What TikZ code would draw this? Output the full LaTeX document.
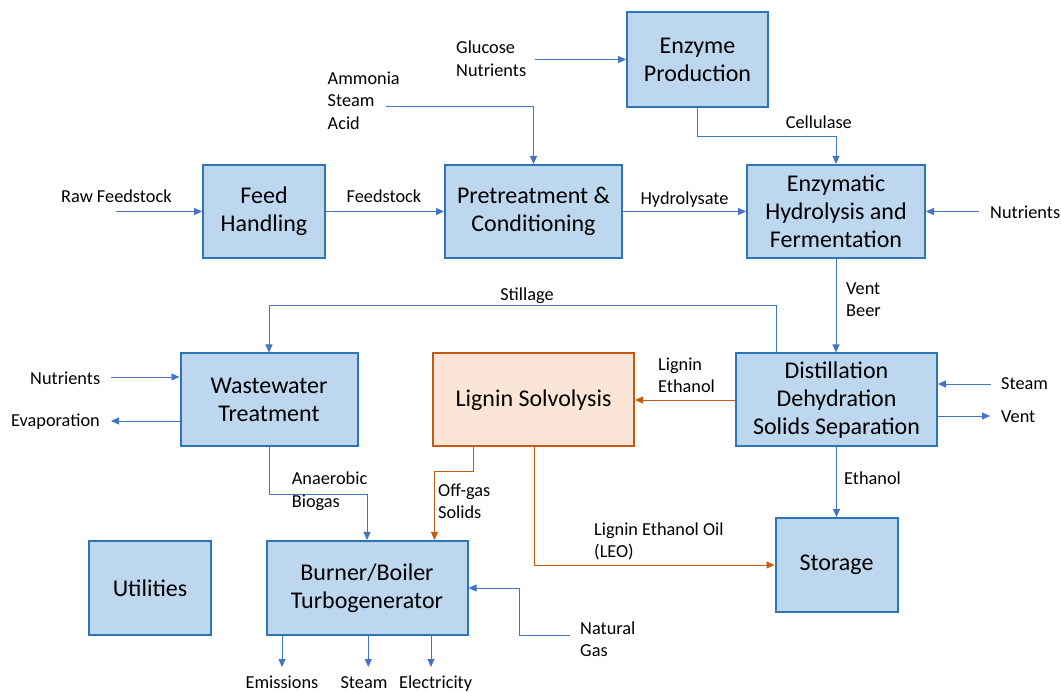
\documentclass[tikz,border=0pt]{standalone}
\usepackage{fontspec}
\setmainfont{Carlito}
\usepackage{tikz}
\usetikzlibrary{arrows.meta}
\definecolor{boxfill}{HTML}{BDD7EE}
\definecolor{boxline}{HTML}{2E75B6}
\definecolor{flowblue}{HTML}{4472C4}
\definecolor{ligfill}{HTML}{FBE5D6}
\definecolor{ligline}{HTML}{C55A11}
\tikzstyle{unit} = [draw=boxline,fill=boxfill,line width=2pt,align=center,inner sep=0pt,font=\fontsize{24}{28}\selectfont]
\tikzstyle{ligunit} = [unit,draw=ligline,fill=ligfill]
\tikzstyle{edge} = [draw,flowblue,line width=0.9pt,-{Triangle[length=8pt,width=7pt]}]
\tikzstyle{oedge} = [edge,ligline]
\tikzstyle{stream} = [align=left,inner sep=0pt,font=\fontsize{18.3}{22.5}\selectfont]

\begin{document}
\begin{tikzpicture}[x=1pt,y=-1pt]
				\useasboundingbox (0,0) rectangle (1061,692);

				\node[unit,minimum width=141pt,minimum height=95pt] (enz) at (697.5, 59.5) {Enzyme\\Production};
				\node[unit,minimum width=122pt,minimum height=93pt] (feed) at (264, 211.5) {Feed\\Handling};
				\node[unit,minimum width=177pt,minimum height=93pt] (pre) at (533.5, 211.5) {Pretreatment \&\\Conditioning};
				\node[unit,minimum width=178pt,minimum height=93pt] (hyd) at (836, 211.5) {Enzymatic\\Hydrolysis and\\Fermentation};

				\node[unit,minimum width=177pt,minimum height=93pt] (ww) at (269, 400) {Wastewater\\Treatment};
				\node[ligunit,minimum width=201pt,minimum height=93pt] (lig) at (533.5, 400) {Lignin Solvolysis};
				\node[unit,minimum width=201pt,minimum height=93pt] (dist) at (836.5, 400) {Distillation\\Dehydration\\Solids Separation};

				\node[unit,minimum width=122pt,minimum height=94pt] (util) at (150, 588) {Utilities};
				\node[unit,minimum width=201pt,minimum height=94pt] (burn) at (367, 588) {Burner/Boiler\\Turbogenerator};
				\node[unit,minimum width=122pt,minimum height=94pt] (stor) at (836.5, 565) {Storage};

				% free ends of the streams
				\coordinate (raw) at (115.5, 211.5);
				\coordinate (nuthyd) at (979, 211.5);
				\coordinate (gluc) at (534.5, 59.5);
				\coordinate (amm) at (386, 106);
				\coordinate (steamin) at (990.5, 384);
				\coordinate (ventout) at (990, 416);
				\coordinate (nutww) at (111, 377);
				\coordinate (evap) at (111, 421);
				\coordinate (ngas) at (570, 635);
				\coordinate (emis) at (282, 667);
				\coordinate (steamout) at (368.3, 667);
				\coordinate (elec) at (431, 667);

				\foreach \source/ \dest in {raw/feed, feed/pre, pre/hyd, nuthyd/hyd, gluc/enz}
				\path[edge] (\source) -- (\dest);
				\path[edge] (amm) -| (pre);
				\path[edge] (enz.south) -- ++(0,28.5) -| (hyd);
				\path[edge] (hyd.south) -- (hyd.south |- dist.north);
				\path[edge] ([xshift=-60.5pt]dist.north) -- ++(0,-47) -| (ww);
				\path[edge] (steamin) -- (steamin -| dist.east);
				\path[edge] (ventout -| dist.east) -- (ventout);
				\path[edge] (dist.south) -- (dist.south |- stor.north);
				\path[edge] (nutww) -- (nutww -| ww.west);
				\path[edge] (evap -| ww.west) -- (evap);
				\path[edge] (ww.south) -- ++(0,47.3) -| (burn);
				\path[edge] (ngas) -- ++(-51,0) |- (burn);
				\foreach \dest in {emis, steamout, elec}
				\path[edge] (\dest |- burn.south) -- (\dest);

				\path[oedge] (dist) -- (lig);
				\path[oedge] ([xshift=-59.7pt]lig.south) -- ++(0,24.3) -| ([xshift=67.5pt]burn.north);
				\path[oedge] ([xshift=1pt]lig.south) |- (stor);

				% stream labels
				\node[stream,anchor=west] (lraw) at (61, 196) {Raw Feedstock};
				\node[stream] (lfeedstock) at (384, 196) {Feedstock};
				\node[stream] (lhydro) at (684.5, 200) {Hydrolysate};
				\node[stream,anchor=west] (lnuthyd) at (990, 212) {Nutrients};
				\node[stream,anchor=west] (lgluc) at (456, 58.5) {Glucose\\Nutrients};
				\node[stream,anchor=west] (lamm) at (327.5, 100.5) {Ammonia\\Steam\\Acid};
				\node[stream] (lcell) at (818.8, 122) {Cellulase};
				\node[stream,anchor=west] (lvent) at (846, 299.5) {Vent\\Beer};
				\node[stream] (lstill) at (527, 296) {Stillage};
				\node[stream,anchor=west] (lligeth) at (658, 375.5) {Lignin\\Ethanol};
				\node[stream,anchor=west] (lsteam) at (1001, 384) {Steam};
				\node[stream,anchor=west] (lventout) at (1001, 417) {Vent};
				\node[stream,anchor=west] (lnutww) at (30, 378) {Nutrients};
				\node[stream,anchor=west] (levap) at (11, 421.5) {Evaporation};
				\node[stream,anchor=west] (lbiogas) at (291.7, 491.3) {Anaerobic\\Biogas};
				\node[stream,anchor=west] (loffgas) at (438, 501) {Off-gas\\Solids};
				\node[stream,anchor=west] (lethanol) at (844, 478) {Ethanol};
				\node[stream,anchor=west] (lleo) at (594, 541.3) {Lignin Ethanol Oil\\(LEO)};
				\node[stream,anchor=west] (lngas) at (580, 639) {Natural\\Gas};
				\node[stream,anchor=base] (lemis) at (282, 688) {Emissions};
				\node[stream,anchor=base] (lsteamout) at (364, 688) {Steam};
				\node[stream,anchor=base] (lelec) at (435.6, 688) {Electricity};
			\end{tikzpicture}
\end{document}
